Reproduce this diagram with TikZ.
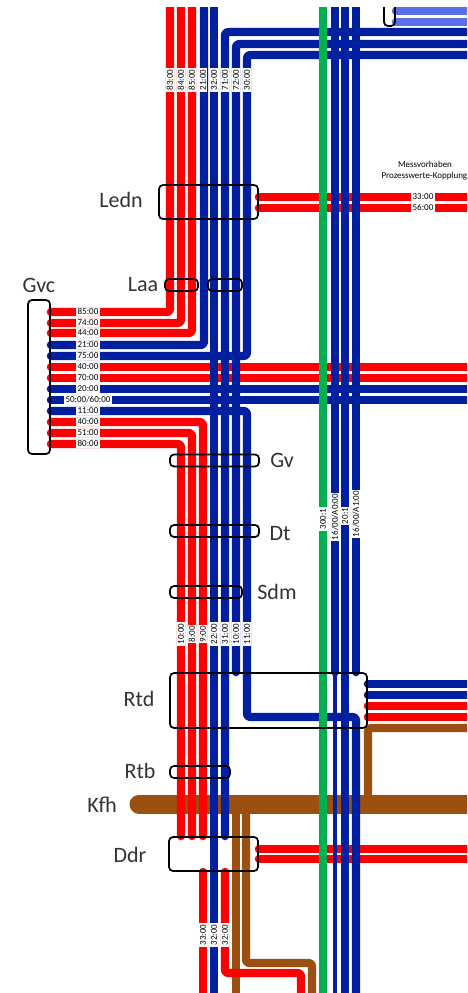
\documentclass[tikz,border=0pt]{standalone}
\usepackage{xcolor}
\usepackage{fontspec}
\setmainfont{Carlito}

\definecolor{wirered}{HTML}{FF0000}
\definecolor{wireblue}{HTML}{0020A0}
\definecolor{wiregreen}{HTML}{00B050}
\definecolor{wirebrown}{HTML}{9B5010}
\definecolor{wirelight}{HTML}{5A6FE8}

\pgfdeclarelayer{wires}
\pgfsetlayers{wires,main}

\tikzset{
    wire/.style={line width=8.2pt, rounded corners=3pt, line cap=round, line join=round},
    redwire/.style={wire, draw=wirered},
    bluewire/.style={wire, draw=wireblue},
    brownwire/.style={wire, draw=wirebrown},
    greenwire/.style={wire, draw=wiregreen, line width=7.5pt},
    lightwire/.style={wire, draw=wirelight},
    bundle/.style={draw=black, line width=1.7pt, rounded corners=4pt, inner sep=0pt},
    boxname/.style={font=\fontsize{22}{24}\selectfont, text=black!80},
    wirelabel/.style={fill=white, inner xsep=1.2pt, inner ysep=0.4pt, text height=6pt, text depth=0.4pt, font=\fontsize{9}{10}\selectfont},
    uplabel/.style={wirelabel, rotate=90},
    smalltext/.style={font=\fontsize{9}{10}\selectfont}
}

\begin{document}
\begin{tikzpicture}[x=1pt, y=-1pt]
    \useasboundingbox (0,0) rectangle (467,993);
    \clip (0,7) rectangle (467,993);

    \foreach \x in {170,181,192,203,204,214,225,236,246,247,301,312,323,335,345,356,368} {
        \coordinate (c\x) at (\x,0);
        \coordinate (d\x) at (\x,1003);
    }
    \foreach \y in {11,22,32,44,55,197,208,312,323,333,345,356,367,378,389,400,411,422,433,444,684,695,706,717,728,804,849,859,963,973} {
        \coordinate (r\y) at (478,\y);
    }
    \coordinate (kfhend) at (139,804);

    \node[bundle, minimum width=11pt, minimum height=32pt] (Top) at (389.5,10) {};
    \node[bundle, minimum width=99pt, minimum height=34pt] (Ledn) at (208.5,202) {};
    \node[bundle, minimum width=33pt, minimum height=12pt] (LaaA) at (181.5,285) {};
    \node[bundle, minimum width=34pt, minimum height=12pt] (LaaB) at (225,285) {};
    \node[bundle, minimum width=22pt, minimum height=154pt] (Gvc) at (39,377) {};
    \node[bundle, minimum width=89pt, minimum height=12pt] (Gv) at (214.5,460.5) {};
    \node[bundle, minimum width=89pt, minimum height=12pt] (Dt) at (214.5,531) {};
    \node[bundle, minimum width=72pt, minimum height=12pt] (Sdm) at (206,592) {};
    \node[bundle, minimum width=197pt, minimum height=55pt] (Rtd) at (268.5,700.5) {};
    \node[bundle, minimum width=60pt, minimum height=12pt] (Rtb) at (200,772) {};
    \node[bundle, minimum width=89pt, minimum height=34pt] (Ddr) at (213.5,854) {};

    \node[boxname] (LednName) at (121,200) {Ledn};
    \node[boxname] (GvcName) at (39,285) {Gvc};
    \node[boxname] (LaaName) at (143,285) {Laa};
    \node[boxname] (GvName) at (282,460) {Gv};
    \node[boxname] (DtName) at (280,534) {Dt};
    \node[boxname] (SdmName) at (277,592) {Sdm};
    \node[boxname] (RtdName) at (139,699) {Rtd};
    \node[boxname] (RtbName) at (140,771) {Rtb};
    \node[boxname] (KfhName) at (102,805) {Kfh};
    \node[boxname] (DdrName) at (130,855) {Ddr};

    \begin{pgfonlayer}{wires}
        \clip (0,7) rectangle (467,993);

        \foreach \y in {11,22}
            \draw[lightwire] (Top.east |- r\y) -- (r\y);

        \draw[brownwire, line width=19pt] (kfhend) -- (r804);
        \draw[brownwire] (r728) -| (c368 |- r804);
        \draw[brownwire] (c236 |- r804) -- (d236);
        \draw[brownwire] (c246 |- r804) |- (c312 |- r963) -- (d312);

        \foreach \y in {197,208}
            \draw[redwire] (Ledn.east |- r\y) -- (r\y);
        \foreach \y/\x in {312/170,323/181,333/192}
            \draw[redwire] (Gvc.east |- r\y) -| (c\x);
        \foreach \y in {367,378}
            \draw[redwire] (Gvc.east |- r\y) -- (r\y);
        \foreach \y/\x in {422/203,433/192,444/181}
            \draw[redwire] (Gvc.east |- r\y) -| (c\x |- Ddr.north);
        \foreach \y in {706,717}
            \draw[redwire] (Rtd.east |- r\y) -- (r\y);
        \foreach \y in {849,859}
            \draw[redwire] (Ddr.east |- r\y) -- (r\y);
        \draw[redwire] (c203 |- Ddr.south) -- (d203);
        \draw[redwire] (c225 |- Ddr.south) |- (c301 |- r973) -- (d301);

        \draw[bluewire] (Gvc.east |- r345) -| (c204);
        \draw[bluewire] (c214) -- (d214);
        \draw[bluewire] (r32) -| (c225 |- Ddr.north);
        \draw[bluewire] (r44) -| (c236 |- Rtd.north);
        \draw[bluewire] (Gvc.east |- r356) -| (c247 |- r55) -- (r55);
        \foreach \y in {389,400}
            \draw[bluewire] (Gvc.east |- r\y) -- (r\y);
        \draw[bluewire] (Gvc.east |- r411) -| (c247 |- r717) -| (d356);
        \foreach \y in {684,695}
            \draw[bluewire] (Rtd.east |- r\y) -- (r\y);
        \draw[bluewire] (c335) -- (c335 |- Rtd.north);
        \draw[bluewire, line width=4pt] (c335 |- Rtd.north) -- (d335);
        \draw[bluewire] (c345) -- (d345);
        \draw[bluewire] (c356) -- (c356 |- Rtd.north);

        \draw[greenwire] (c323) -- (d323);
    \end{pgfonlayer}

    \foreach \x/\t in {170/83:00,181/84:00,192/85:00,203/21:00,214/32:00,225/71:00,236/72:00,247/30:00}
        \node[uplabel] (top\x) at (\x,80) {\t};
    \foreach \x/\t in {181/10:00,192/8:00,203/9:00,214/22:00,225/31:00,236/10:00,247/11:00}
        \node[uplabel] (mid\x) at (\x,634) {\t};
    \foreach \x/\t in {203/33:00,214/32:00,225/32:00}
        \node[uplabel] (low\x) at (\x,935) {\t};
    \foreach \y/\t in {312/85:00,323/74:00,333/44:00,345/21:00,356/75:00,367/40:00,378/70:00,389/20:00,400/{50:00/60:00},411/11:00,422/40:00,433/51:00,444/80:00}
        \node[wirelabel] (gvc\y) at (88,\y) {\t};
    \node[wirelabel] (out197) at (423,197) {33:00};
    \node[wirelabel] (out208) at (423,208) {56:00};
    \node[uplabel] (long323) at (323,519) {300:1};
    \node[uplabel] (long335) at (335,517) {16/00/A0:00};
    \node[uplabel] (long345) at (345,516) {20:1};
    \node[uplabel] (long356) at (356,514) {16/00/A1:00};

    \node[smalltext] (title1) at (425,164) {Messvorhaben};
    \node[smalltext, anchor=west] (title2) at (378,176) {Prozesswerte-Kopplung};
\end{tikzpicture}
\end{document}
